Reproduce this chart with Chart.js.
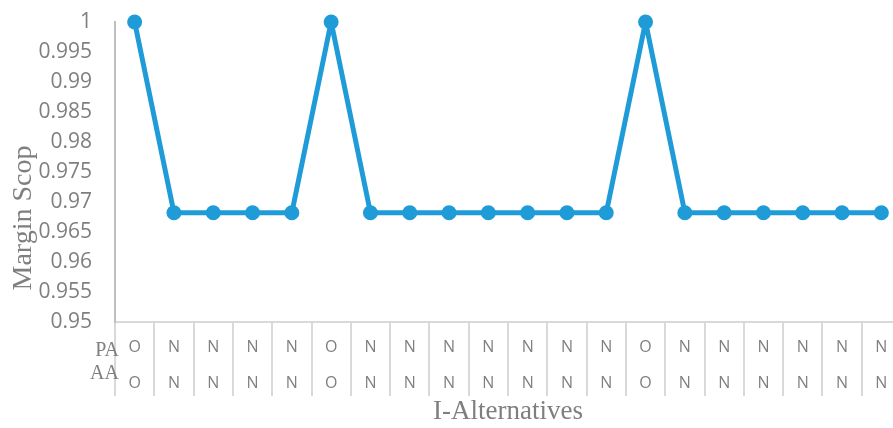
<!DOCTYPE html>
<html>
<head>
<meta charset="utf-8">
<script src="https://cdn.jsdelivr.net/npm/chart.js@4.4.1/dist/chart.umd.min.js"></script>
<style>
html, body { margin: 0; padding: 0; overflow: hidden; background: #fff; }
#chart { display: block; width: 901px; height: 428px; }
</style>
</head>
<body>
<canvas id="chart" width="901" height="428"></canvas>
<script>
// row labels (PA / AA) for each alternative
var pa_labels = ['O','N','N','N','N','O','N','N','N','N','N','N','N','O','N','N','N','N','N','N'];
var aa_labels = ['O','N','N','N','N','O','N','N','N','N','N','N','N','O','N','N','N','N','N','N'];
// margin scope values
var margin_scop = [1, 0.9682, 0.9682, 0.9682, 0.9682, 1, 0.9682, 0.9682, 0.9682, 0.9682,
    0.9682, 0.9682, 0.9682, 1, 0.9682, 0.9682, 0.9682, 0.9682, 0.9682, 0.9682];
var y_min = 0.95;
var y_max = 1;
var y_step = 0.005;

var labels = pa_labels.map(function(p, i){ return [p, aa_labels[i]]; });

const textColor = '#7f7f7f';
const serif = '"Liberation Serif", "DejaVu Serif", serif';

// draws the row names and the y title
const sideText = {
    id: 'sideText',
    afterDraw: function(chart) {
        var c = chart.ctx;
        c.save();
        c.fillStyle = textColor;
        c.font = '20px ' + serif;
        c.textAlign = 'right';
        c.textBaseline = 'middle';
        c.fillText('PA', 119, 351);
        c.fillText('AA', 119, 374);
        c.translate(24, 218);
        c.rotate(-Math.PI / 2);
        c.textAlign = 'center';
        c.font = '28px ' + serif;
        c.fillText('Margin Scop', 0, 0);
        c.restore();
    }
};

const ctx = document.getElementById('chart').getContext('2d');
const chart = new Chart(ctx, {
    type: 'line',
    data: {
        labels: labels,
        datasets: [{
            label: 'Margin Scop',
            data: margin_scop,
            borderColor: '#1f9cd8',
            backgroundColor: '#1f9cd8',
            borderWidth: 5,
            borderJoinStyle: 'round',
            pointRadius: 7.5,
            pointHoverRadius: 7.5,
            pointBorderWidth: 0,
            tension: 0,
            clip: false,
        }]
    },
    options: {
        responsive: false,
        animation: false,
        layout: { autoPadding: false, padding: { top: 22, right: 0, left: 0, bottom: 0 } },
        plugins: {
            legend: { display: false },
            tooltip: { enabled: false },
        },
        scales: {
            x: {
                offset: true,
                afterFit: function(scale){ scale.height = 106; },
                border: { display: true, color: '#d9d9d9', width: 2 },
                grid: {
                    offset: true,
                    drawOnChartArea: false,
                    drawTicks: true,
                    tickLength: 74,
                    color: '#d9d9d9',
                    lineWidth: 2,
                },
                ticks: {
                    maxRotation: 0,
                    autoSkip: false,
                    padding: -67,
                    color: textColor,
                    font: { family: '"Open Sans", sans-serif', size: 16, lineHeight: 36 / 16 },
                },
                title: {
                    display: true,
                    text: 'I-Alternatives',
                    color: textColor,
                    font: { family: serif, size: 27 },
                    padding: { top: 0, bottom: 0 },
                },
            },
            y: {
                min: y_min,
                max: y_max,
                afterFit: function(scale){
                    scale.width = 115;
                    scale.paddingTop = 0;
                    scale.paddingBottom = 0;
                },
                border: { display: true, color: '#bfbfbf', width: 2 },
                grid: { display: false, drawTicks: false },
                ticks: {
                    stepSize: y_step,
                    padding: 23,
                    color: textColor,
                    font: { family: '"Open Sans", sans-serif', size: 21 },
                    callback: function(v){ return String(parseFloat(v.toFixed(3))); },
                },
            },
        },
    },
    plugins: [sideText]
});
</script>
</body>
</html>
